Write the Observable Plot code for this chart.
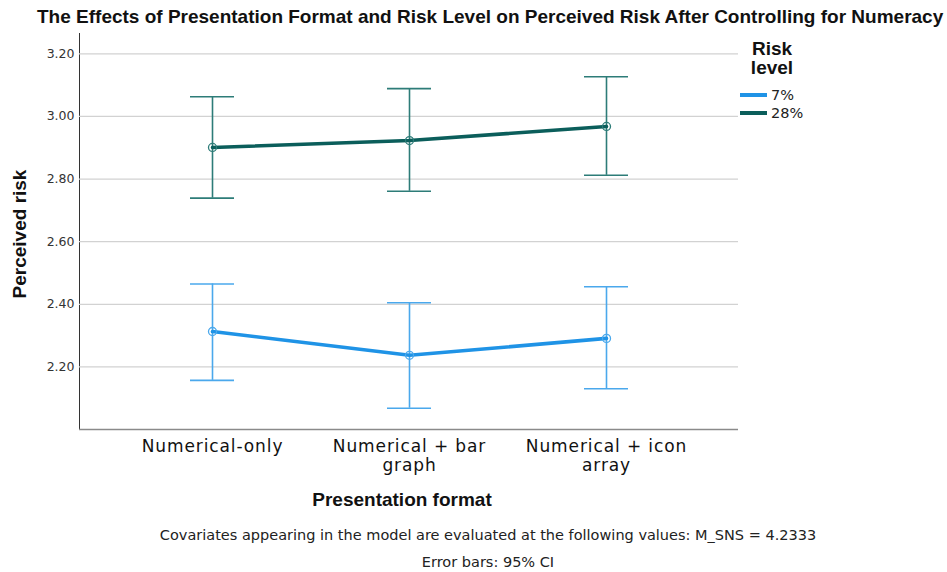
<!DOCTYPE html>
<html><head><meta charset="utf-8">
<script src="https://cdn.jsdelivr.net/npm/d3@7"></script>
<script src="https://cdn.jsdelivr.net/npm/@observablehq/plot@0.6"></script>
<style>
body{margin:0;background:#fff;}
#wrap{position:relative;width:947px;height:572px;font-family:"DejaVu Sans",sans-serif;color:#111;}
.t{position:absolute;white-space:nowrap;}
#wrap svg{position:absolute;left:0;top:0;}
#wrap svg .xlab text{letter-spacing:0.9px;}
</style></head><body><div id="wrap"></div>
<script>
const formats = ["Numerical-only", "Numerical + bar graph", "Numerical + icon array"];
const formatTickLabels = ["Numerical-only", "Numerical + bar\ngraph", "Numerical + icon\narray"];
const riskLevels = ["7%", "28%"];
const means7 = [2.313, 2.237, 2.291];
const lower7 = [2.157, 2.068, 2.130];
const upper7 = [2.465, 2.405, 2.456];
const means28 = [2.901, 2.923, 2.968];
const lower28 = [2.739, 2.761, 2.812];
const upper28 = [3.063, 3.089, 3.127];
const yTicks = [2.2, 2.4, 2.6, 2.8, 3.0, 3.2];
const yDomain = [2.0, 3.265];

const colors = {"7%": "#1f93e6", "28%": "#0b5e5b"};
const barColors = {"7%": "#4aa8ec", "28%": "#2d7c78"};

const rows = [];
formats.forEach((f, i) => {
  rows.push({format: f, risk: "7%", mean: means7[i], lower: lower7[i], upper: upper7[i]});
  rows.push({format: f, risk: "28%", mean: means28[i], lower: lower28[i], upper: upper28[i]});
});
const ticks = formats.map((f, i) => ({format: f, label: formatTickLabels[i]}));

const marks = [
  Plot.ruleY(yTicks, {stroke: "#d2d2d2", strokeWidth: 1.3}),
  Plot.ruleY([yDomain[0]], {stroke: "#8a8a8a", strokeWidth: 1.3}),
];
for (const r of riskLevels) {
  const d = rows.filter(o => o.risk === r);
  marks.push(
    Plot.ruleX(d, {x: "format", y1: "lower", y2: "upper", stroke: barColors[r], strokeWidth: 1.6}),
    Plot.tickY(d, {x: "format", y: "lower", stroke: barColors[r], strokeWidth: 1.6}),
    Plot.tickY(d, {x: "format", y: "upper", stroke: barColors[r], strokeWidth: 1.6}),
    Plot.line(d, {x: "format", y: "mean", stroke: colors[r], strokeWidth: 3.6}),
    Plot.dot(d, {x: "format", y: "mean", stroke: barColors[r], fill: "none", r: 4, strokeWidth: 1.3})
  );
}
marks.push(Plot.text(ticks, {x: "format", text: "label", frameAnchor: "bottom", dy: 9, lineAnchor: "top", fontSize: 17, lineHeight: 1.12, fill: "#111", className: "xlab"}));

const chart = Plot.plot({
  width: 947, height: 572,
  marginLeft: 79, marginRight: 209, marginTop: 33, marginBottom: 143,
  style: {fontFamily: "DejaVu Sans, sans-serif", fontSize: "12.5px", color: "#333", background: "white", overflow: "visible"},
  x: {type: "band", domain: formats, paddingInner: 0.777, paddingOuter: 0.558, axis: null},
  y: {domain: yDomain, ticks: yTicks, tickFormat: d3.format(".2f"), tickSize: 0, tickPadding: 5, label: null, line: true},
  marks
});
const wrap = document.getElementById("wrap");
wrap.appendChild(chart);

function addText(txt, css) {
  const el = document.createElement("div");
  el.className = "t";
  el.textContent = txt;
  Object.assign(el.style, css);
  wrap.appendChild(el);
  return el;
}
const boldFont = "'Liberation Sans', sans-serif";
addText("The Effects of Presentation Format and Risk Level on Perceived Risk After Controlling for Numeracy",
  {left: "37px", top: "6px", fontFamily: "'Liberation Sans Narrow', 'Liberation Sans', sans-serif", fontWeight: "bold", fontSize: "19px"});
addText("Perceived risk", {left: "20px", top: "234px", transform: "translate(-50%,-50%) rotate(-90deg)", fontFamily: boldFont, fontWeight: "bold", fontSize: "19px"});
addText("Presentation format", {left: "402px", top: "500px", transform: "translate(-50%,-50%)", fontFamily: boldFont, fontWeight: "bold", fontSize: "19px"});
addText("Risk", {left: "772px", top: "49px", transform: "translate(-50%,-50%)", fontFamily: boldFont, fontWeight: "bold", fontSize: "19px"});
addText("level", {left: "772px", top: "68px", transform: "translate(-50%,-50%)", fontFamily: boldFont, fontWeight: "bold", fontSize: "19px"});
riskLevels.forEach((r, i) => {
  const y = 95 + i * 18;
  const sw = document.createElement("div");
  Object.assign(sw.style, {position: "absolute", left: "740px", top: (y - 2) + "px", width: "27px", height: "3.5px", background: colors[r]});
  wrap.appendChild(sw);
  addText(r, {left: "771px", top: y + "px", transform: "translateY(-50%)", fontSize: "14.5px", color: "#222"});
});
addText("Covariates appearing in the model are evaluated at the following values: M_SNS = 4.2333",
  {left: "488px", top: "535px", transform: "translate(-50%,-50%)", fontSize: "14.5px", color: "#222"});
addText("Error bars: 95% CI", {left: "488px", top: "562px", transform: "translate(-50%,-50%)", fontSize: "14.5px", color: "#222"});
</script></body></html>
